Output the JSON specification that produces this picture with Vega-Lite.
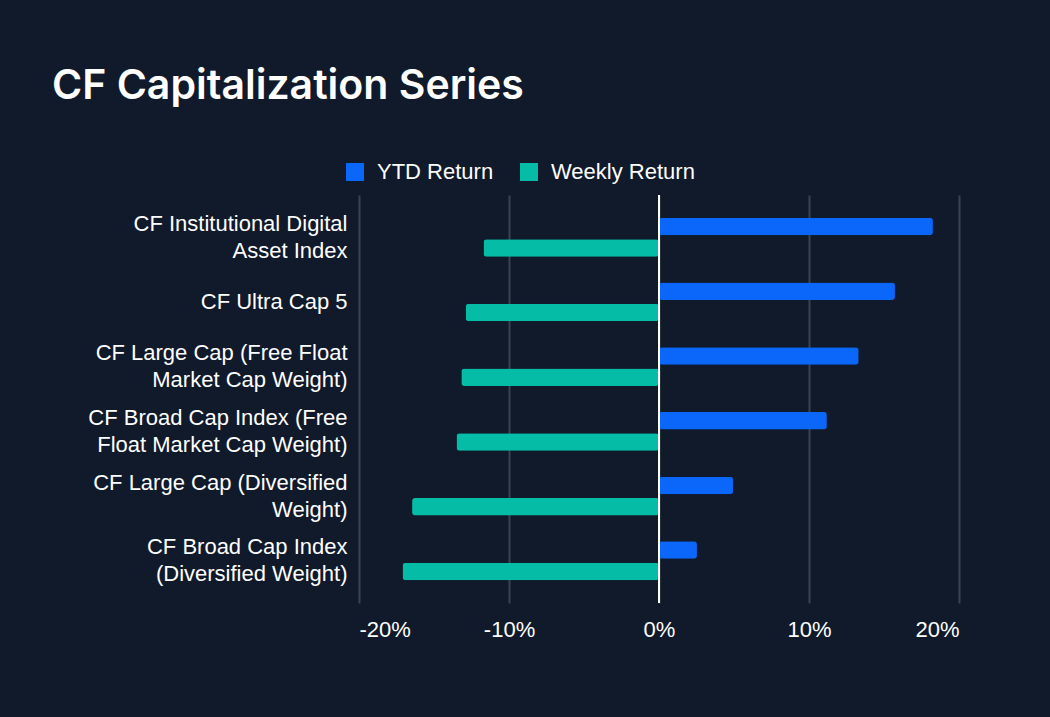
{
  "$schema": "https://vega.github.io/schema/vega-lite/v6.json",
  "width": 600,
  "height": 408,
  "autosize": {"type": "none"},
  "padding": {"left": 359, "top": 195, "right": 91, "bottom": 114},
  "background": "#101a2b",
  "title": {
    "text": "CF Capitalization Series",
    "anchor": "start",
    "frame": "group",
    "dx": -307,
    "offset": 21,
    "baseline": "alphabetic",
    "font": "Inter",
    "fontSize": 41,
    "fontWeight": 600,
    "color": "#ffffff"
  },
  "config": {
    "view": {"stroke": null},
    "font": "Liberation Sans"
  },
  "data": {
    "values": [
      {"index": "CF Institutional Digital Asset Index", "series": "YTD Return", "value": 18.26},
      {"index": "CF Institutional Digital Asset Index", "series": "Weekly Return", "value": -11.7},
      {"index": "CF Ultra Cap 5", "series": "YTD Return", "value": 15.73},
      {"index": "CF Ultra Cap 5", "series": "Weekly Return", "value": -12.89},
      {"index": "CF Large Cap (Free Float Market Cap Weight)", "series": "YTD Return", "value": 13.31},
      {"index": "CF Large Cap (Free Float Market Cap Weight)", "series": "Weekly Return", "value": -13.18},
      {"index": "CF Broad Cap Index (Free Float Market Cap Weight)", "series": "YTD Return", "value": 11.19},
      {"index": "CF Broad Cap Index (Free Float Market Cap Weight)", "series": "Weekly Return", "value": -13.5},
      {"index": "CF Large Cap (Diversified Weight)", "series": "YTD Return", "value": 4.95},
      {"index": "CF Large Cap (Diversified Weight)", "series": "Weekly Return", "value": -16.46},
      {"index": "CF Broad Cap Index (Diversified Weight)", "series": "YTD Return", "value": 2.53},
      {"index": "CF Broad Cap Index (Diversified Weight)", "series": "Weekly Return", "value": -17.1}
    ]
  },
  "layer": [
    {
      "mark": {"type": "bar", "cornerRadius": 3},
      "encoding": {
        "y": {
          "field": "index",
          "type": "nominal",
          "sort": null,
          "scale": {"paddingInner": 0.4, "paddingOuter": 0.353},
          "axis": {
            "title": null,
            "domain": false,
            "ticks": false,
            "labelFontSize": 22,
            "labelColor": "#ffffff",
            "labelPadding": 12,
            "labelLineHeight": 27,
            "labelLimit": 400,
            "labelOffset": {"condition": {"test": "datum.value == 'CF Ultra Cap 5'", "value": 0}, "value": -13.5},
            "labelExpr": "datum.value == 'CF Institutional Digital Asset Index' ? ['CF Institutional Digital', 'Asset Index'] : datum.value == 'CF Large Cap (Free Float Market Cap Weight)' ? ['CF Large Cap (Free Float', 'Market Cap Weight)'] : datum.value == 'CF Broad Cap Index (Free Float Market Cap Weight)' ? ['CF Broad Cap Index (Free', 'Float Market Cap Weight)'] : datum.value == 'CF Large Cap (Diversified Weight)' ? ['CF Large Cap (Diversified', 'Weight)'] : datum.value == 'CF Broad Cap Index (Diversified Weight)' ? ['CF Broad Cap Index', '(Diversified Weight)'] : datum.value"
          }
        },
        "yOffset": {
          "field": "series",
          "type": "nominal",
          "sort": ["YTD Return", "Weekly Return"],
          "scale": {"paddingInner": 0.18}
        },
        "x": {
          "field": "value",
          "type": "quantitative",
          "scale": {"domain": [-20, 20], "nice": false},
          "axis": {
            "title": null,
            "values": [-20, -10, 0, 10, 20],
            "grid": true,
            "gridColor": "#3b4250",
            "gridWidth": 2,
            "domain": false,
            "ticks": false,
            "labelFontSize": 22,
            "labelColor": "#ffffff",
            "labelPadding": 16,
            "labelExpr": "datum.value + '%'"
          }
        },
        "color": {
          "field": "series",
          "type": "nominal",
          "sort": ["YTD Return", "Weekly Return"],
          "scale": {"domain": ["YTD Return", "Weekly Return"], "range": ["#0b66fa", "#05bda6"]},
          "legend": {
            "orient": "none",
            "legendX": -15,
            "legendY": -34,
            "direction": "horizontal",
            "title": null,
            "padding": 0,
            "symbolType": "square",
            "symbolSize": 324,
            "symbolStrokeWidth": 0,
            "symbolOpacity": 1,
            "labelFontSize": 22,
            "labelColor": "#ffffff",
            "labelOffset": 11,
            "columnPadding": 24
          }
        }
      }
    },
    {
      "mark": {"type": "rule", "color": "#ffffff", "strokeWidth": 2},
      "encoding": {"x": {"datum": 0}}
    }
  ]
}
